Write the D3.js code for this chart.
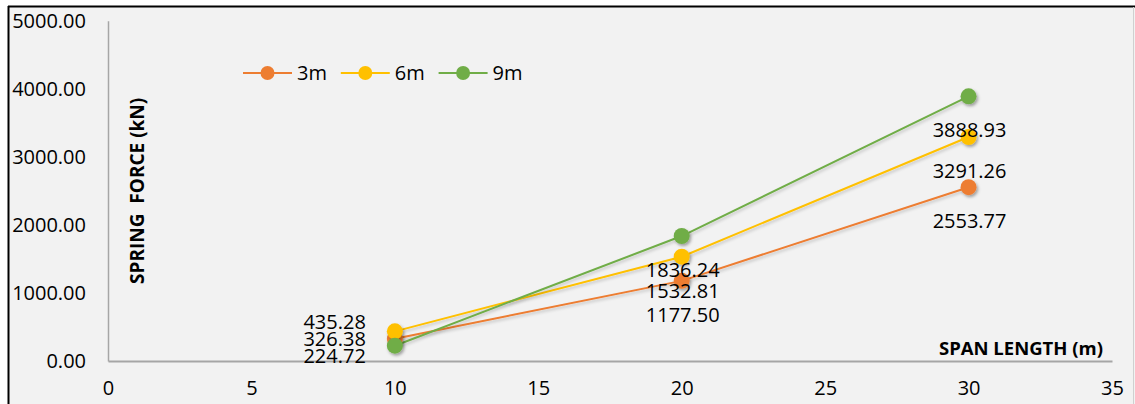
<!DOCTYPE html>
<html>
<head>
<meta charset="utf-8">
<script src="https://cdn.jsdelivr.net/npm/d3@7/dist/d3.min.js"></script>
<style>
  html, body { margin: 0; padding: 0; background: #ffffff; }
  svg { display: block; }
  text { font-family: "Open Sans", Carlito, Calibri, sans-serif; }
</style>
</head>
<body>
<svg id="chart" width="1135" height="404"></svg>
<script>
// Span lengths (m) on the x axis
const spans = [10, 20, 30];
// Spring force (kN) for each pier height
const force3m = [326.38, 1177.50, 2553.77];
const force6m = [435.28, 1532.81, 3291.26];
const force9m = [224.72, 1836.24, 3888.93];
const seriesNames = ["3m", "6m", "9m"];
const seriesColors = ["#ED7D31", "#FFC000", "#70AD47"];
const xTicks = [0, 5, 10, 15, 20, 25, 30, 35];
const yTicks = [0, 1000, 2000, 3000, 4000, 5000];

const series = [force3m, force6m, force9m].map((vals, i) => ({
  name: seriesNames[i],
  color: seriesColors[i],
  points: vals.map((v, j) => ({ x: spans[j], y: v }))
}));

const svg = d3.select("#chart");
const W = 1135, H = 404;
const FONT = "\"Open Sans\", Carlito, Calibri, sans-serif";

// frame of the chart area
svg.append("rect").attr("x", 8).attr("y", 6).attr("width", W - 8).attr("height", H)
  .attr("fill", "#f2f2f2");
svg.append("line").attr("x1", 8).attr("x2", W).attr("y1", 6.5).attr("y2", 6.5)
  .attr("stroke", "#000").attr("stroke-width", 2);
svg.append("line").attr("x1", 8.5).attr("x2", 8.5).attr("y1", 6).attr("y2", H)
  .attr("stroke", "#000").attr("stroke-width", 2);
svg.append("line").attr("x1", 1133.5).attr("x2", 1133.5).attr("y1", 7).attr("y2", H)
  .attr("stroke", "#d0d0d0").attr("stroke-width", 1);

const defs = svg.append("defs");
const shadow = defs.append("filter").attr("id", "shadow")
  .attr("x", "-50%").attr("y", "-50%").attr("width", "200%").attr("height", "200%");
shadow.append("feDropShadow").attr("dx", 1.5).attr("dy", 2).attr("stdDeviation", 1.8)
  .attr("flood-color", "#000").attr("flood-opacity", 0.35);
const lineShadow = defs.append("filter").attr("id", "lineShadow")
  .attr("x", "-10%").attr("y", "-10%").attr("width", "120%").attr("height", "120%");
lineShadow.append("feDropShadow").attr("dx", 1).attr("dy", 2).attr("stdDeviation", 1.5)
  .attr("flood-color", "#000").attr("flood-opacity", 0.2);

const x = d3.scaleLinear().domain([0, 35]).range([108, 1112]);
const y = d3.scaleLinear().domain([0, 5000]).range([361, 20.7]);

// y axis
const yAxis = svg.append("g").attr("transform", `translate(${x(0)},0)`)
  .call(d3.axisLeft(y).tickValues(yTicks).tickFormat(d3.format(".2f")).tickSize(0).tickPadding(22));
yAxis.select(".domain").attr("stroke", "#a6a6a6").attr("stroke-width", 1.5);
yAxis.selectAll("text").attr("font-size", 20).attr("fill", "#000").style("font-family", FONT);

// x axis
const xAxis = svg.append("g").attr("transform", `translate(0,${y(0)})`)
  .call(d3.axisBottom(x).tickValues(xTicks).tickSize(0).tickPadding(20));
xAxis.select(".domain").attr("stroke", "#a6a6a6").attr("stroke-width", 2);
xAxis.selectAll("text").attr("font-size", 20).attr("fill", "#000").style("font-family", FONT);

// axis titles
svg.append("text")
  .attr("transform", `translate(144,${(y(0) + y(5000)) / 2}) rotate(-90)`)
  .attr("text-anchor", "middle").attr("font-size", 19).attr("font-weight", "bold")
  .attr("fill", "#000").attr("xml:space", "preserve")
  .text("SPRING  FORCE (kN)");
svg.append("text")
  .attr("x", 1103).attr("y", 355).attr("text-anchor", "end")
  .attr("font-size", 18.5).attr("font-weight", "bold").attr("fill", "#000")
  .text("SPAN LENGTH (m)");

// series lines
const line = d3.line().x(d => x(d.x)).y(d => y(d.y));
svg.append("g").selectAll("path").data(series).join("path")
  .attr("d", d => line(d.points))
  .attr("fill", "none").attr("stroke", d => d.color).attr("stroke-width", 2)
  .attr("filter", "url(#lineShadow)");

// markers
series.forEach(s => {
  svg.append("g").selectAll("circle").data(s.points).join("circle")
    .attr("cx", d => x(d.x)).attr("cy", d => y(d.y)).attr("r", 8)
    .attr("fill", s.color).attr("filter", "url(#shadow)");
});

// data labels: first span stacked to the left, others below the marker
const labels = svg.append("g").attr("font-size", 20).attr("fill", "#000");
spans.forEach((sp, j) => {
  if (j === 0) {
    const pts = series.map(s => s.points[j]).sort((a, b) => b.y - a.y);
    const meanY = d3.mean(pts, p => y(p.y));
    pts.forEach((p, k) => {
      labels.append("text")
        .attr("x", x(sp) - 29).attr("y", meanY + (k - 1) * 17)
        .attr("dy", "0.35em").attr("text-anchor", "end")
        .text(d3.format(".2f")(p.y));
    });
  } else {
    series.forEach(s => {
      const p = s.points[j];
      labels.append("text")
        .attr("x", x(sp) + 1).attr("y", y(p.y) + 34)
        .attr("dy", "0.35em").attr("text-anchor", "middle")
        .text(d3.format(".2f")(p.y));
    });
  }
});

// legend
const legend = svg.append("g").attr("transform", "translate(243,73)");
const item = legend.selectAll("g").data(series).join("g")
  .attr("transform", (d, i) => `translate(${i * 97.8},0)`);
item.append("line").attr("x1", 0).attr("x2", 49).attr("y1", 0).attr("y2", 0)
  .attr("stroke", d => d.color).attr("stroke-width", 2);
item.append("circle").attr("cx", 24.5).attr("cy", 0).attr("r", 7).attr("fill", d => d.color);
item.append("text").attr("x", 54).attr("y", 0).attr("dy", "0.35em")
  .attr("font-size", 20).attr("fill", "#000").text(d => d.name);
</script>
</body>
</html>
